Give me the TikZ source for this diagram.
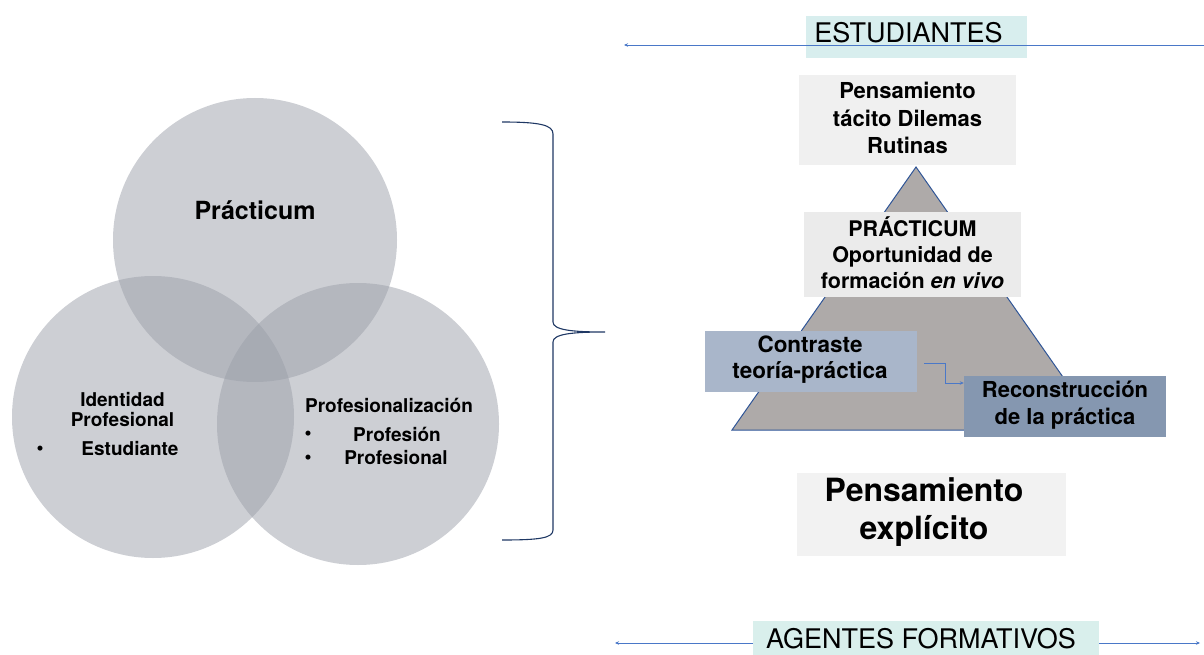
\documentclass[tikz,border=0pt]{standalone}
\usepackage{fontspec}
\setmainfont{TeX Gyre Heros}
\usetikzlibrary{arrows.meta}
\definecolor{estcol}{HTML}{D8EEEE}
\definecolor{agcol}{HTML}{D9EFEC}
\definecolor{topcol}{HTML}{F0F0F0}
\definecolor{praccol}{HTML}{EBEBEB}
\definecolor{concol}{HTML}{A9B6CA}
\definecolor{reccol}{HTML}{8597B0}
\definecolor{explcol}{HTML}{F2F2F2}
\definecolor{trifill}{HTML}{AEAAA9}
\definecolor{triline}{HTML}{2F5597}
\definecolor{arrcol}{HTML}{4A78C8}
\definecolor{bracecol}{HTML}{1F3864}
\definecolor{circcol}{RGB}{155,159,169}
\newcommand\myfs[2]{\fontsize{#1}{#2}\selectfont}
\begin{document}
\begin{tikzpicture}[x=1pt,y=-1pt,
  circ/.style={circle, fill=circcol, fill opacity=0.5, inner sep=0, minimum size=#1},
  boxx/.style={rectangle, inner sep=0, draw=none},
  lbl/.style={inner sep=0, align=center},
  arr/.style={draw=arrcol, line width=0.9pt, -{Stealth[length=4pt,width=3.5pt]}},
  bul/.style={inner sep=0, font=\myfs{20}{22}}
]
\useasboundingbox (0,0) rectangle (1204,655);

% ---- Venn circles
\node[circ=284pt] (c1) at (255,240) {};
\node[circ=282pt] (c2) at (153,417) {};
\node[circ=282pt] (c3) at (358,424) {};

\node[lbl, font=\bfseries\myfs{25}{30}] (t1) at (255,210) {Prácticum};
\node[lbl, font=\bfseries\myfs{19}{20}] (t2) at (122.5,410) {Identidad\\Profesional};
\node[bul] (b1) at (40,451) {•};
\node[lbl, font=\bfseries\myfs{19}{22}] (t3) at (130,449) {Estudiante};
\node[lbl, font=\bfseries\myfs{19}{22}] (t4) at (389,405) {Profesionalización};
\node[bul] (b2) at (308,436) {•};
\node[lbl, font=\bfseries\myfs{19}{22}] (t5) at (397,434) {Profesión};
\node[bul] (b3) at (308,460) {•};
\node[lbl, font=\bfseries\myfs{19}{22}] (t6) at (396,458) {Profesional};

% ---- brace
\draw[bracecol, line width=1.1pt]
  (502,122) .. controls (540,122) and (553,125) .. (553,134)
  -- (553,322) .. controls (553,330) and (572,332) .. (605,332)
  (605,332) .. controls (572,332) and (553,334) .. (553,342)
  -- (553,530) .. controls (553,538) and (540,540) .. (502,540);

% ---- top header
\node[boxx, fill=estcol, minimum width=221pt, minimum height=42pt] (estbox) at (916.5,37) {};
\coordinate (tr) at (1204,45);
\coordinate (tl) at (624,45);
\draw[arr] (tr) -- (tl);
\node[lbl, font=\myfs{27}{32}] (est) at (908.5,33) {ESTUDIANTES};

% ---- tacit box
\node[boxx, fill=topcol, minimum width=217pt, minimum height=90pt] (tacbox) at (907.5,120) {};
\node[lbl, font=\bfseries\myfs{22}{27.5}] (tac) at (907.5,118) {Pensamiento\\tácito Dilemas\\Rutinas};

% ---- triangle
\coordinate (apex) at (916,167);
\coordinate (bl) at (732,430);
\coordinate (br) at (1100,430);
\filldraw[fill=trifill, draw=triline, line width=1pt, line join=miter] (apex) -- (br) -- (bl) -- cycle;

% ---- practicum box
\node[boxx, fill=praccol, minimum width=217pt, minimum height=85pt] (pracbox) at (912.5,254.5) {};
\node[lbl, font=\bfseries\myfs{21.5}{26}] (prac) at (912.5,253) {PRÁCTICUM\\Oportunidad de\\formación \textit{en vivo}};

% ---- contraste / reconstruccion
\node[boxx, fill=concol, minimum width=212pt, minimum height=61pt] (conbox) at (811,361.5) {};
\node[lbl, font=\bfseries\myfs{22.5}{26}] (con) at (810,360) {Contraste\\teoría-práctica};
\node[boxx, fill=reccol, minimum width=202pt, minimum height=61pt] (recbox) at (1065,406.5) {};
\node[lbl, font=\bfseries\myfs{22}{27}] (rec) at (1065,405) {Reconstrucción\\de la práctica};
\draw[draw=arrcol, line width=0.9pt, -{Stealth[length=4pt,width=3.5pt]}]
  ([xshift=7pt,yshift=-1.5pt]conbox.east) -- ++(21,0) |- ([yshift=23.5pt]recbox.west);

% ---- explicit box
\node[boxx, fill=explcol, minimum width=269pt, minimum height=83pt] (explbox) at (931.5,514.5) {};
\node[lbl, font=\bfseries\myfs{32}{38}] (expl) at (924,512) {Pensamiento\\explícito};

% ---- bottom header
\node[boxx, fill=agcol, minimum width=346pt, minimum height=39pt] (agbox) at (926,640.5) {};
\node[lbl, font=\myfs{27}{32}] (ag) at (921,639) {AGENTES FORMATIVOS};
\coordinate (al) at (615,643);
\coordinate (ar) at (1200,643);
\draw[arr] ([yshift=-2.5pt]agbox.west) -- (al);
\draw[arr] ([yshift=-2.5pt]agbox.east) -- (ar);
\end{tikzpicture}
\end{document}
